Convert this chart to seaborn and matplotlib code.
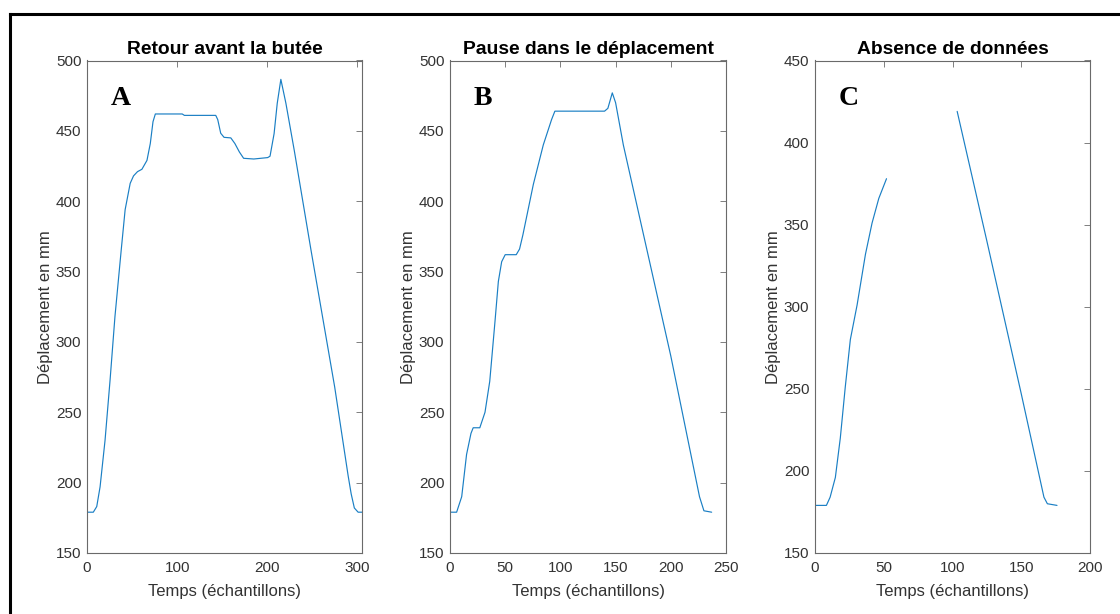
import numpy as np
import pandas as pd
import matplotlib
matplotlib.use("Agg")
import matplotlib.pyplot as plt
from matplotlib.lines import Line2D
import seaborn as sns

# ---------------- data ----------------
titles = ["Retour avant la butée", "Pause dans le déplacement", "Absence de données"]
letters = ["A", "B", "C"]
xlabel = "Temps (échantillons)"
ylabel = "Déplacement en mm"

a_t = [0, 7, 10.8, 14.5, 20, 25.6, 31, 37.9, 42.3, 47.9, 51.6, 56, 60.9, 66.5, 70.2,
       73.2, 75.8, 90, 105.6, 108, 125, 142.8, 145, 148.3, 152, 159.5, 164, 169, 173.7,
       185, 200.4, 203, 207.5, 211, 215, 220.6, 229.9, 248.5, 274.7, 289.6, 293, 296.5,
       300.7, 305]
a_v = [179, 179, 183, 197, 230, 273, 318, 365, 394, 412.7, 418, 421, 422.7, 429, 441,
       456.5, 462, 462, 462, 461, 461, 461, 458, 448.3, 445.4, 445, 441, 435, 430.5,
       430, 431, 432, 448, 469.6, 486.6, 469.6, 436, 365, 268, 205, 192, 182,
       179, 179]

b_t = [0, 6, 10.6, 15, 19, 21, 27, 31.7, 36, 40.8, 43.8, 46.8, 50, 60, 63, 66, 75.5,
       84.5, 92, 95, 140, 143, 147, 150, 157, 200, 226, 230, 237]
b_v = [179, 179, 190, 220, 235, 239, 239, 250, 272, 315, 343, 357, 362, 362, 366, 376, 412,
       440, 458, 464, 464, 466, 477, 470, 440, 290, 190, 180, 179]

c1_t = [0, 8.3, 11, 14.8, 18.4, 22, 25.7, 30.6, 36.7, 41.5, 46.4, 52]
c1_v = [179, 179, 184, 196, 220, 251, 280, 301, 332, 351, 366, 378]
c2_t = [103.4, 125, 150, 166.5, 169, 176]
c2_v = [419, 340, 247, 184, 180, 179]

xlims = [(0, 305), (0, 250), (0, 200)]
ylims = [(150, 500), (150, 500), (150, 450)]
xticks = [[0, 100, 200, 300], [0, 50, 100, 150, 200, 250], [0, 50, 100, 150, 200]]
yticks = [list(range(150, 501, 50)), list(range(150, 501, 50)), list(range(150, 451, 50))]

# ---------------- figure ----------------
sns.set_theme(style="white")
plt.rcParams['font.family'] = ['Liberation Sans', 'DejaVu Sans']

W, H = 1120, 614
fig = plt.figure(figsize=(W / 100, H / 100), dpi=100)
fig.patch.set_facecolor("white")

axes_px = [(87, 362), (450, 726), (815, 1090)]
top_px, bot_px = 60.5, 553
axes = []
for (l, r) in axes_px:
    ax = fig.add_axes([l / W, (H - bot_px) / H, (r - l) / W, (bot_px - top_px) / H])
    axes.append(ax)

line_color = "#1a7fc4"
dark = "#333333"
spine_col = "#6a6a6a"

series = [
    [(a_t, a_v)],
    [(b_t, b_v)],
    [(c1_t, c1_v), (c2_t, c2_v)],
]

for i, ax in enumerate(axes):
    for (t, v) in series[i]:
        df = pd.DataFrame({"t": t, "v": v})
        sns.lineplot(data=df, x="t", y="v", ax=ax, color=line_color, linewidth=0.85,
                     estimator=None, sort=False)
    ax.set_xlim(*xlims[i])
    ax.set_ylim(*ylims[i])
    ax.set_xticks(xticks[i])
    ax.set_yticks(yticks[i])
    ax.tick_params(direction="in", length=4, width=0.6, color=spine_col, labelcolor=dark,
                   labelsize=11, top=True, right=True)
    ax.tick_params(axis="x", pad=6)
    ax.tick_params(axis="y", pad=4)
    for sp in ax.spines.values():
        sp.set_visible(True)
        sp.set_color(spine_col)
        sp.set_linewidth(0.8)
    ax.set_xlabel(xlabel, fontsize=12, color=dark, labelpad=6)
    ax.set_ylabel(ylabel, fontsize=12, color=dark, labelpad=2)
    ax.set_title(titles[i], fontsize=13.9, fontweight="bold", color="black", pad=5)
    ax.text(0.086, 0.910, letters[i], transform=ax.transAxes, fontsize=20,
            fontweight="bold", family=["Liberation Serif", "DejaVu Serif"],
            color="black", va="baseline", ha="left")
    ax.grid(False)

# outer black frame (left and top edges visible)
fig.add_artist(Line2D([9.7 / W, 9.7 / W], [0, 1 - 14 / H], transform=fig.transFigure,
                      color="black", linewidth=2.2, solid_capstyle="projecting"))
fig.add_artist(Line2D([9.7 / W, 1.0], [1 - 14 / H, 1 - 14 / H], transform=fig.transFigure,
                      color="black", linewidth=2.2, solid_capstyle="projecting"))

fig.savefig("out.png", dpi=100, facecolor="white")
